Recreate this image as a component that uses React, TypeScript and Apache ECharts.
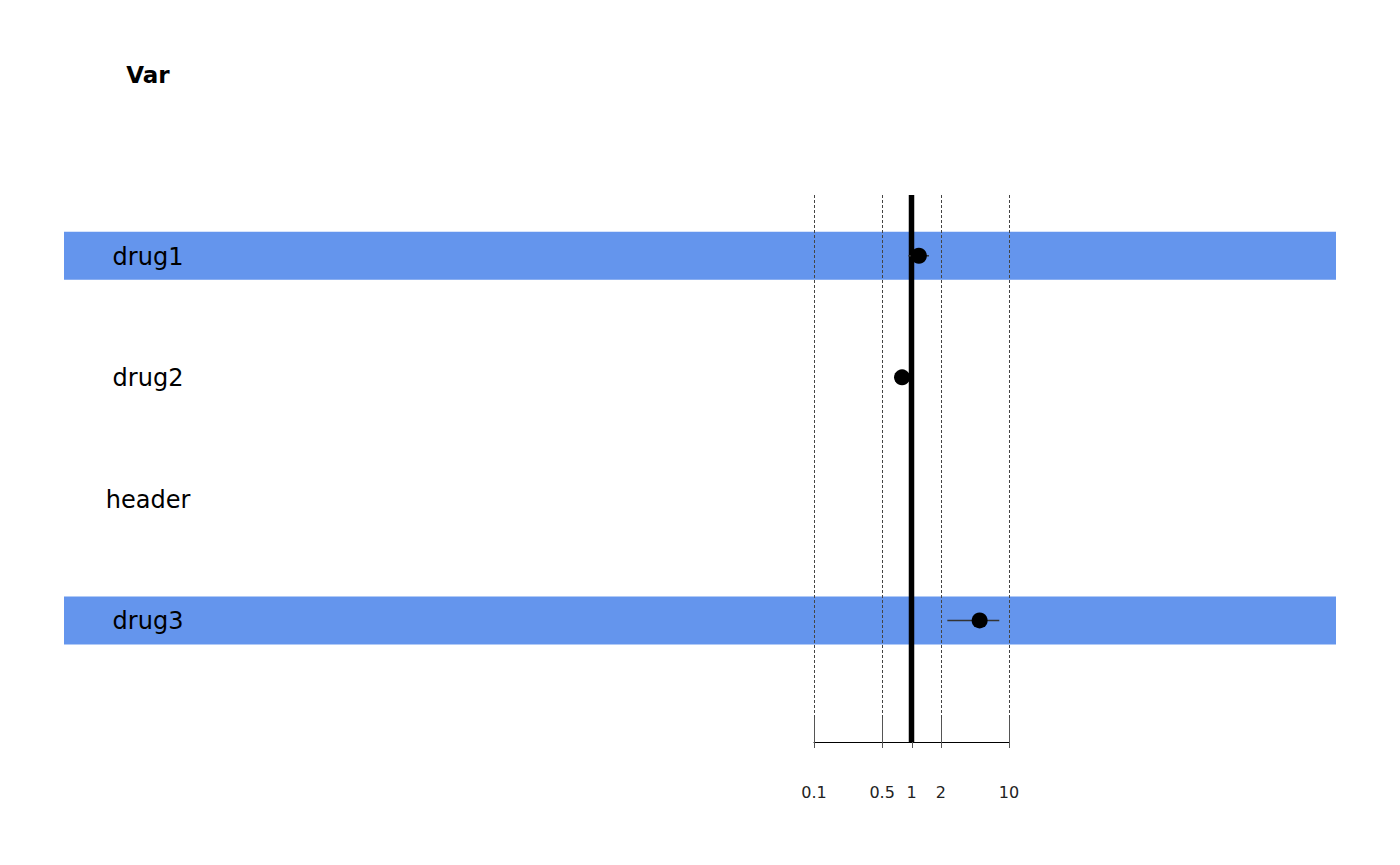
import React, { useEffect, useRef } from "react";
import * as echarts from "echarts";

const rowLabels = ["drug1", "drug2", "header", "drug3"];
const highlighted = [1, 0, 0, 1];
const estimates: (number | null)[] = [1.19, 0.8, null, 5.0];
const lowerCI: (number | null)[] = [0.93, 0.76, null, 2.33];
const upperCI: (number | null)[] = [1.51, 0.84, null, 7.95];
const tickValues = [0.1, 0.5, 1, 2, 10];
const tickLabels = ["0.1", "0.5", "1", "2", "10"];
const refValue = 1;
const headerText = "Var";

const FONT = "DejaVu Sans";

export default function App() {
  const ref = useRef<HTMLDivElement>(null);
  useEffect(() => {
    if (!ref.current) return;
    const chart = echarts.init(ref.current, null, { renderer: "svg" });

    const pointData: number[][] = [];
    const ciData: number[][] = [];
    rowLabels.forEach((_, i) => {
      const e = estimates[i];
      if (e != null) pointData.push([e, i]);
      const lo = lowerCI[i];
      const hi = upperCI[i];
      if (lo != null && hi != null) ciData.push([lo, hi, i]);
    });

    const logTicks = tickValues.map((v) => Math.log10(v));

    const option: any = {
      animation: false,
      backgroundColor: "#ffffff",
      grid: [
        { left: 814, width: 195, top: 195, height: 547 },
        { left: 64, width: 1272, top: 195, height: 547 },
      ],
      xAxis: [
        {
          type: "log",
          logBase: 10,
          min: 0.1,
          max: 10,
          gridIndex: 0,
          position: "bottom",
          axisLine: { show: false },
          axisTick: { show: false },
          axisLabel: { show: false },
          splitLine: { show: false },
        },
        {
          type: "value",
          min: -1,
          max: 1,
          gridIndex: 0,
          position: "bottom",
          axisLine: { show: true, lineStyle: { color: "#000", width: 1 } },
          axisTick: { show: false },
          axisLabel: {
            show: true,
            customValues: logTicks,
            margin: 42,
            fontSize: 16,
            fontFamily: FONT,
            color: "#222",
            formatter: (v: number) => {
              let best = 0;
              logTicks.forEach((t, k) => {
                if (Math.abs(t - v) < Math.abs(logTicks[best] - v)) best = k;
              });
              return tickLabels[best];
            },
          },
          splitLine: { show: false },
        },
        {
          type: "value",
          min: 0,
          max: 1,
          gridIndex: 1,
          show: false,
        },
      ],
      yAxis: [
        { type: "value", min: -0.5, max: 4, inverse: true, gridIndex: 0, show: false },
        { type: "value", min: -0.5, max: 4, inverse: true, gridIndex: 1, show: false },
      ],
      graphic: [
        {
          type: "text",
          x: 148,
          y: 75,
          style: {
            text: headerText,
            fontSize: 23,
            fontWeight: "bold",
            fontFamily: FONT,
            fill: "#000",
            align: "center",
            verticalAlign: "middle",
          },
        },
      ],
      series: [
        {
          type: "custom",
          xAxisIndex: 2,
          yAxisIndex: 1,
          z: 0,
          silent: true,
          data: rowLabels.map((_, i) => [0.5, i, highlighted[i]]),
          encode: { x: 0, y: 1 },
          renderItem: (params: any, api: any) => {
            const cs = params.coordSys;
            const y = api.coord([0.5, api.value(1)])[1];
            const children: any[] = [];
            if (api.value(2) === 1) {
              children.push({
                type: "rect",
                shape: { x: cs.x, y: y - 24, width: cs.width, height: 48 },
                style: { fill: "#6495ED" },
              });
            }
            children.push({
              type: "text",
              style: {
                text: rowLabels[params.dataIndex],
                x: cs.x + 84,
                y: y + 1,
                align: "center",
                verticalAlign: "middle",
                fontSize: 24,
                fontFamily: FONT,
                fill: "#000",
              },
            });
            return { type: "group", children };
          },
        },
        {
          type: "custom",
          xAxisIndex: 0,
          yAxisIndex: 0,
          z: 2,
          silent: true,
          clip: false,
          data: tickValues.map((v) => [v, 0]),
          encode: { x: 0, y: 1 },
          renderItem: (params: any, api: any) => {
            const cs = params.coordSys;
            const x = Math.round(api.coord([api.value(0), 0])[0]) + 0.5;
            const bottom = cs.y + cs.height;
            return {
              type: "group",
              children: [
                {
                  type: "line",
                  shape: { x1: x, y1: cs.y, x2: x, y2: bottom - 24 },
                  style: { stroke: "#444", lineWidth: 1, lineDash: [3, 2] },
                },
                {
                  type: "line",
                  shape: { x1: x, y1: bottom - 24, x2: x, y2: bottom + 6 },
                  style: { stroke: "#555", lineWidth: 1 },
                },
              ],
            };
          },
        },
        {
          type: "custom",
          xAxisIndex: 0,
          yAxisIndex: 0,
          z: 3,
          silent: true,
          data: [[refValue, 0]],
          encode: { x: 0, y: 1 },
          renderItem: (params: any, api: any) => {
            const cs = params.coordSys;
            const x = api.coord([api.value(0), 0])[0];
            return {
              type: "line",
              shape: { x1: x, y1: cs.y, x2: x, y2: cs.y + cs.height },
              style: { stroke: "#000", lineWidth: 5.5 },
            };
          },
        },
        {
          type: "custom",
          xAxisIndex: 0,
          yAxisIndex: 0,
          z: 4,
          silent: true,
          data: ciData,
          encode: { x: [0, 1], y: 2 },
          renderItem: (params: any, api: any) => {
            const p1 = api.coord([api.value(0), api.value(2)]);
            const p2 = api.coord([api.value(1), api.value(2)]);
            return {
              type: "line",
              shape: { x1: p1[0], y1: p1[1], x2: p2[0], y2: p2[1] },
              style: { stroke: "#333", lineWidth: 1.5 },
            };
          },
        },
        {
          type: "scatter",
          xAxisIndex: 0,
          yAxisIndex: 0,
          z: 5,
          silent: true,
          symbol: "circle",
          symbolSize: 16,
          itemStyle: { color: "#000", opacity: 1 },
          data: pointData,
        },
      ],
    };

    chart.setOption(option);
    return () => chart.dispose();
  }, []);

  return <div ref={ref} style={{ width: 1400, height: 865, position: "absolute", left: 0, top: 0 }} />;
}
